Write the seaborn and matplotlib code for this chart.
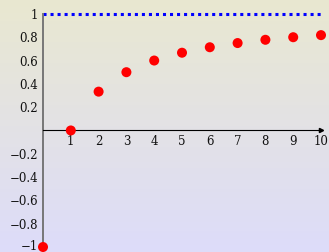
import numpy as np
import pandas as pd
import matplotlib
matplotlib.use("Agg")
import matplotlib.pyplot as plt
import matplotlib.transforms as mtrans
import seaborn as sns

# values
x_vals = [0, 1, 2, 3, 4, 5, 6, 7, 8, 9, 10]
y_vals = [-1.0, 0.0, 0.333, 0.5, 0.6, 0.667, 0.714, 0.75, 0.778, 0.8, 0.818]
limit_x = [0, 10]
limit_y = [1, 1]
xticks = [1, 2, 3, 4, 5, 6, 7, 8, 9, 10]
yticks = [-1, -0.8, -0.6, -0.4, -0.2, 0.2, 0.4, 0.6, 0.8, 1]

sns.set_theme(style="white")
plt.rcParams["font.family"] = ["DejaVu Serif"]
plt.rcParams["axes.unicode_minus"] = True

fig = plt.figure(figsize=(3.29, 2.52), dpi=100)

# background gradient: yellowish top -> lavender bottom
bg = fig.add_axes([0, 0, 1, 1])
top = np.array([233, 232, 208]) / 255
bot = np.array([221, 220, 250]) / 255
t = np.linspace(0, 1, 256)[:, None]
grad = (top * (1 - t) + bot * t)[:, None, :]
bg.imshow(grad, aspect="auto", extent=[0, 1, 0, 1])
bg.axis("off")

ax = fig.add_axes([0.1307, 0.0198, 0.845, 0.925])
ax.patch.set_alpha(0)

df = pd.DataFrame({"x": x_vals, "y": y_vals})
lim = pd.DataFrame({"x": limit_x, "y": limit_y})
sns.lineplot(data=lim, x="x", y="y", ax=ax, color="#0000ff", lw=2.2,
             linestyle=(0, (1, 1.3)), clip_on=False)
sns.scatterplot(data=df, x="x", y="y", ax=ax, color="#ff0000", s=52,
                edgecolor="none", clip_on=False, zorder=5)

ax.set_xlim(0, 10)
ax.set_ylim(-1, 1)
ax.set_xticks(xticks)
ax.set_yticks(yticks)
ax.set_xticklabels([str(v) for v in xticks])
ax.set_yticklabels(["1" if v == 1 else ("\u22121" if v == -1 else
                    f"{v:.1f}".replace("-", "\u2212")) for v in yticks])
ax.set_xlabel("")
ax.set_ylabel("")

for s in ["top", "right"]:
    ax.spines[s].set_visible(False)
ax.spines["left"].set_position(("data", 0))
ax.spines["bottom"].set_position(("data", 0))
ax.spines["left"].set_color("#777777")
ax.spines["left"].set_linewidth(1.4)
ax.spines["bottom"].set_color("black")
ax.spines["bottom"].set_linewidth(0.8)
ax.plot(1, 0, ">", color="black", ms=3, transform=ax.get_yaxis_transform(),
        clip_on=False)

ax.tick_params(axis="both", direction="inout", length=4, width=0.6,
               colors="#888888", labelcolor="#111111", labelsize=8.5, pad=1.5)

# nudge the bottom label so it stays inside the figure
low = ax.get_yticklabels()[0]
low.set_transform(low.get_transform() +
                  mtrans.ScaledTranslation(0, 2 / 100, fig.dpi_scale_trans))

fig.savefig("out.png", dpi=100)
